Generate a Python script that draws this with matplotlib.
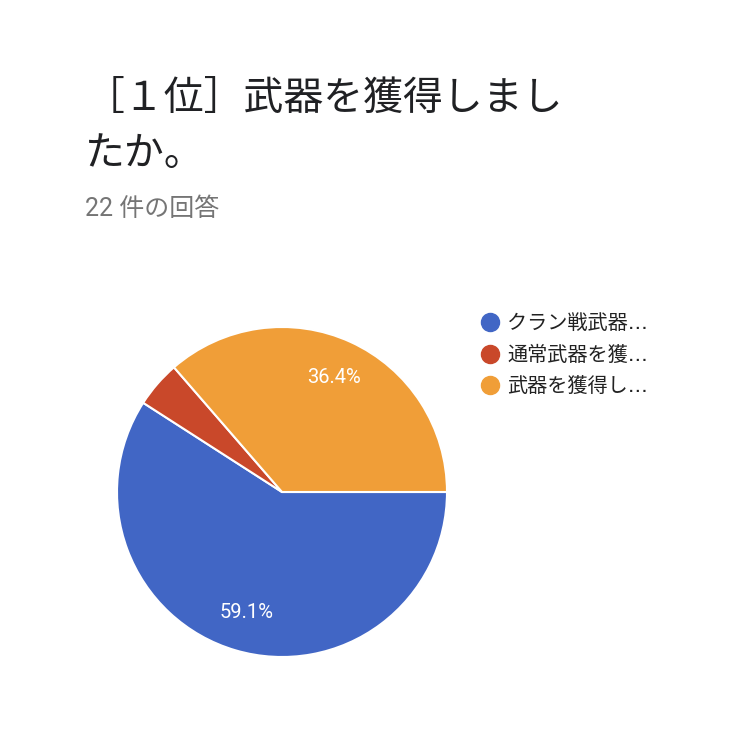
import matplotlib
matplotlib.use("Agg")
import matplotlib.pyplot as plt
from matplotlib.lines import Line2D

plt.rcParams["font.family"] = ["Noto Sans CJK JP", "DejaVu Sans"]

title_lines = ["［１位］武器を獲得しまし", "たか。"]
subtitle = "22 件の回答"
labels = ["クラン戦武器…", "通常武器を獲…", "武器を獲得し…"]
counts = [13, 1, 8]
colors = ["#4166c5", "#c9482a", "#f09e38"]

fig = plt.figure(figsize=(7.5, 7.5), dpi=100)

fig.text(0.113, 1 - 110 / 750, title_lines[0], fontsize=28.7, color="#202124", va="baseline")
fig.text(0.113, 1 - 165 / 750, title_lines[1], fontsize=28.7, color="#202124", va="baseline")
fig.text(0.113, 1 - 209 / 750, subtitle, fontsize=18, color="#757575", va="center",
         family=["Roboto", "Noto Sans CJK JP"])

# pie centred at (282, 492) px with radius 165 px
cx, cy, r = 282 / 750, 1 - 492 / 750, 165 / 750
ax = fig.add_axes((cx - r, cy - r, 2 * r, 2 * r))


def pct_label(p):
    return f"{p:.1f}%" if p > 10 else ""


wedges, texts, autotexts = ax.pie(
    counts,
    colors=colors,
    startangle=0,
    counterclock=False,
    autopct=pct_label,
    pctdistance=0.76,
    wedgeprops=dict(edgecolor="white", linewidth=1.5),
    textprops=dict(color="white", fontsize=14.5, family=["Roboto", "DejaVu Sans"]),
)
ax.set_xlim(-1, 1)
ax.set_ylim(-1, 1)
ax.set_aspect("equal")
ax.axis("off")

handles = [
    Line2D([], [], marker="o", linestyle="none", markersize=13,
           markerfacecolor=c, markeredgecolor=c)
    for c in colors
]
fig.legend(
    handles, labels,
    loc="upper left",
    bbox_to_anchor=(480 / 750, 1 - 314 / 750),
    frameon=False,
    labelcolor="#222222",
    prop=dict(family=["DejaVu Sans", "Noto Sans CJK JP"], size=14.5),
    handletextpad=0.35,
    labelspacing=0.62,
    borderaxespad=0,
    borderpad=0,
    handlelength=1.0,
)

fig.savefig("out.png", dpi=100, facecolor="white")
